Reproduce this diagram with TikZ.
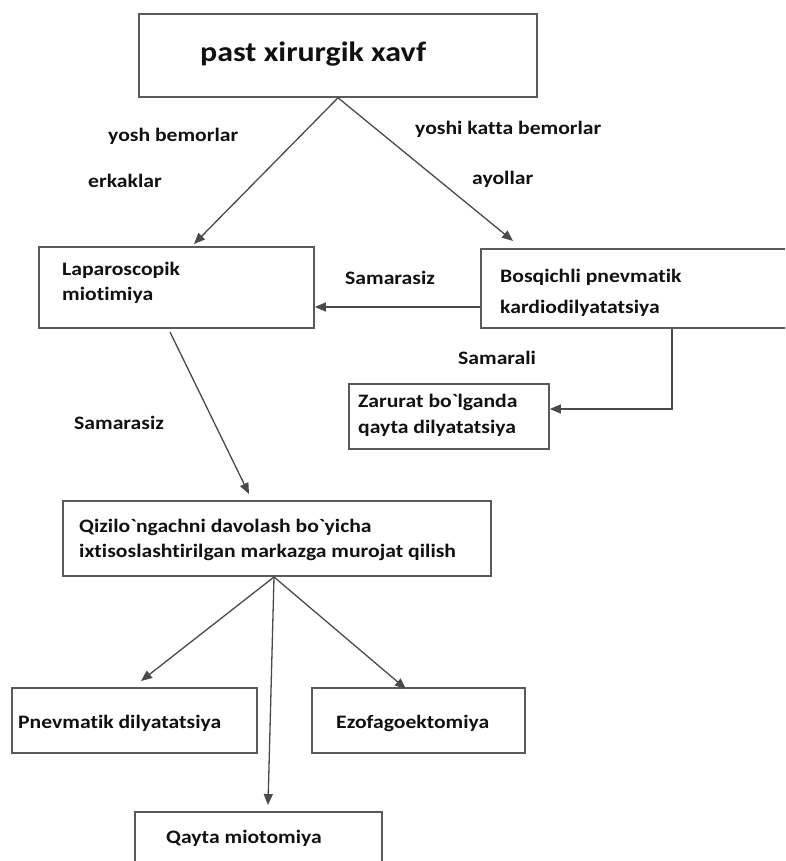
\documentclass[tikz,border=0pt]{standalone}
\usepackage{fontspec}
\setmainfont{Carlito}[FakeStretch=1.14, Ligatures=NoCommon]
\usetikzlibrary{arrows.meta,calc}
\definecolor{boxgray}{HTML}{5A5A5A}
\definecolor{linegray}{HTML}{4A4A4A}
\definecolor{txtc}{HTML}{111111}
\newcommand\gravech{\XeTeXglyph\XeTeXcharglyph"0060\relax}
\tikzset{
  box/.style={draw=boxgray, line width=1.6pt, inner sep=0pt},
  txt/.style={anchor=base west, inner sep=0pt, text=txtc, font=\fontsize{19}{23}\selectfont\bfseries},
  ttl/.style={anchor=base west, inner sep=0pt, text=txtc, font=\fontsize{28}{32}\selectfont\bfseries},
  conn/.style={draw=linegray, line width=1.3pt, -{Triangle[length=11pt,width=9pt]}},
}
\begin{document}
\begin{tikzpicture}[x=1pt,y=-1pt]
\useasboundingbox (0,0) rectangle (785,861);
\clip (0,0) rectangle (785,861);
\fill[white] (0,0) rectangle (785,861);
% boxes
\node[box, minimum width=398pt, minimum height=83pt] (top) at (338,55.5) {};
\node[box, minimum width=275pt, minimum height=81pt] (lap) at (176.5,287.5) {};
\node[box, minimum width=320pt, minimum height=79pt] (bos) at (641,288.5) {};
\node[box, minimum width=200pt, minimum height=65pt] (zar) at (449,416.5) {};
\node[box, minimum width=428pt, minimum height=75pt] (qiz) at (277,538.5) {};
\node[box, minimum width=245pt, minimum height=65pt] (pnev) at (134.5,720.5) {};
\node[box, minimum width=213pt, minimum height=65pt] (ezo) at (418.5,720.5) {};
\node[box, minimum width=247pt, minimum height=78pt] (qay) at (258.5,851) {};
% texts
\node[ttl] (ttop) at (200,62) {past xirurgik xavf};
\node[txt] (l1) at (108,142) {yosh bemorlar};
\node[txt] (l2) at (88,187) {erkaklar};
\node[txt] (l3) at (415,135) {yoshi katta bemorlar};
\node[txt] (l4) at (472,185) {ayollar};
\node[txt] (tlap1) at (62,275) {Laparoscopik};
\node[txt] (tlap2) at (62,300) {miotimiya};
\node[txt] (l5) at (345,284) {Samarasiz};
\node[txt] (tbos1) at (500,282) {Bosqichli pnevmatik};
\node[txt] (tbos2) at (500,313) {kardiodilyatatsiya};
\node[txt] (l6) at (458,364) {Samarali};
\node[txt] (tzar1) at (358,407) {Zarurat bo\gravech lganda};
\node[txt] (tzar2) at (358,433) {qayta dilyatatsiya};
\node[txt] (l7) at (74,429) {Samarasiz};
\node[txt] (tqiz1) at (79,532) {Qizilo\gravech ngachni davolash bo\gravech yicha};
\node[txt] (tqiz2) at (79,557) {ixtisoslashtirilgan markazga murojat qilish};
\node[txt] (tpnev) at (18,728) {Pnevmatik dilyatatsiya};
\node[txt] (tezo) at (336,728) {Ezofagoektomiya};
\node[txt] (tqay) at (166,843) {Qayta miotomiya};
% connector end points
\coordinate (lapin) at (194,244);
\coordinate (bosin) at (513,241);
\coordinate (lapout) at (170,332);
\coordinate (qizin) at (249,494);
\coordinate (qizout) at (274,577);
\coordinate (pnevin) at (141,681);
\coordinate (qayin) at (268,805);
\coordinate (ezoin) at (406,689);
% connectors
\draw[conn] (top.south) -- (lapin);
\draw[conn] (top.south) -- (bosin);
\draw[conn] (bos.west |- 0,307) -- (lap.east |- 0,307);
\draw[conn] (bos.south -| 672,0) |- (zar.east |- 0,409);
\draw[conn] (lapout) -- (qizin);
\draw[conn] (qizout) -- (pnevin);
\draw[conn] (qizout) -- (qayin);
\draw[conn] (qizout) -- (ezoin);
\end{tikzpicture}
\end{document}
